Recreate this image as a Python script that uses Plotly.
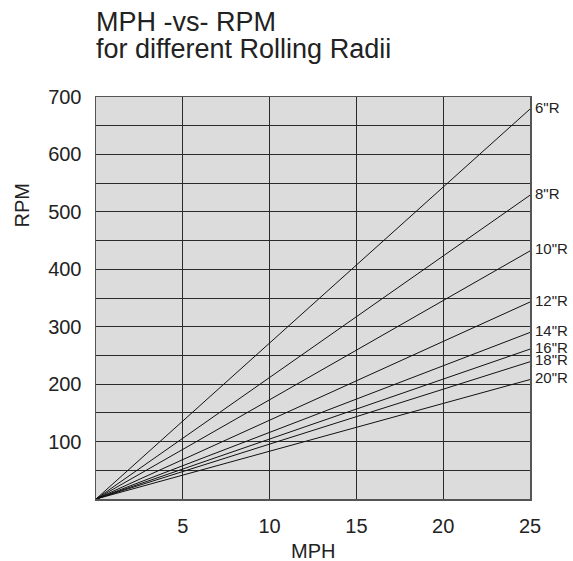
import plotly.graph_objects as go

mph = [0, 25]
radii_labels = ['6"R', '8"R', '10"R', '12"R', '14"R', '16"R', '18"R', '20"R']
rpm_at_0 = [0, 0, 0, 0, 0, 0, 0, 0]
rpm_at_25 = [679, 529, 432, 343, 290, 261, 239, 208]

y_tickvals = [50, 100, 150, 200, 250, 300, 350, 400, 450, 500, 550, 600, 650, 700]
y_ticktext = ['', '100', '', '200', '', '300', '', '400', '', '500', '', '600', '', '700']
x_tickvals = [5, 10, 15, 20, 25]
x_ticktext = ['5', '10', '15', '20', '25']

FONT = "Liberation Sans, Arial, sans-serif"
TXT = '#222'

W, H = 573, 561
L, R, T, B = 96, 43, 97, 62
PW, PH = W - L - R, H - T - B


def px(x):  # page x -> paper
    return (x - L) / PW


def py(y):  # page y -> paper
    return (H - B - y) / PH


fig = go.Figure()
for lab, r0, r25 in zip(radii_labels, rpm_at_0, rpm_at_25):
    fig.add_trace(go.Scatter(x=mph, y=[r0, r25], mode='lines',
                             line=dict(color='#111', width=1), name=lab,
                             showlegend=False, hoverinfo='skip'))
    fig.add_annotation(x=mph[-1], y=r25, text=lab, xref='x', yref='y',
                       showarrow=False, xanchor='left', yanchor='middle',
                       xshift=3, yshift=2,
                       font=dict(size=15, color=TXT, family=FONT))

# title (two lines, tight spacing)
fig.add_annotation(text='MPH -vs- RPM', xref='paper', yref='paper',
                   x=px(94), y=py(22), xanchor='left', yanchor='middle',
                   showarrow=False, font=dict(size=27, color=TXT, family=FONT))
fig.add_annotation(text='for different Rolling Radii', xref='paper', yref='paper',
                   x=px(94), y=py(49), xanchor='left', yanchor='middle',
                   showarrow=False, font=dict(size=27, color=TXT, family=FONT))

# axis titles
fig.add_annotation(text='RPM', xref='paper', yref='paper', x=px(21), y=py(205.5),
                   textangle=-90, showarrow=False, xanchor='center', yanchor='middle',
                   font=dict(size=20, color=TXT, family=FONT))
fig.add_annotation(text='MPH', xref='paper', yref='paper', x=px(313), y=py(551),
                   showarrow=False, xanchor='center', yanchor='middle',
                   font=dict(size=20, color=TXT, family=FONT))

fig.update_layout(
    width=W, height=H,
    margin=dict(l=L, r=R, t=T, b=B, autoexpand=False),
    paper_bgcolor='white', plot_bgcolor='#dcdcdd',
    font=dict(family=FONT, color=TXT),
)
fig.update_xaxes(range=[0, 25], tickvals=x_tickvals, ticktext=x_ticktext,
                 showgrid=True, gridcolor='#2a2a2a', gridwidth=1,
                 showline=True, linecolor='#555', linewidth=1.5, mirror=True,
                 zeroline=False, ticks='', ticklabelstandoff=8,
                 tickfont=dict(size=20, color=TXT), automargin=False)
fig.update_yaxes(range=[0, 700], tickvals=y_tickvals, ticktext=y_ticktext,
                 showgrid=True, gridcolor='#2a2a2a', gridwidth=1,
                 showline=True, linecolor='#555', linewidth=1.5, mirror=True,
                 zeroline=False, ticks='', ticklabelstandoff=9,
                 tickfont=dict(size=20, color=TXT), automargin=False)

fig.write_html("out.html",
               config={"displayModeBar": False, "staticPlot": True},
               post_script="document.body.style.margin='0';"
                           "document.body.style.overflow='hidden';")
